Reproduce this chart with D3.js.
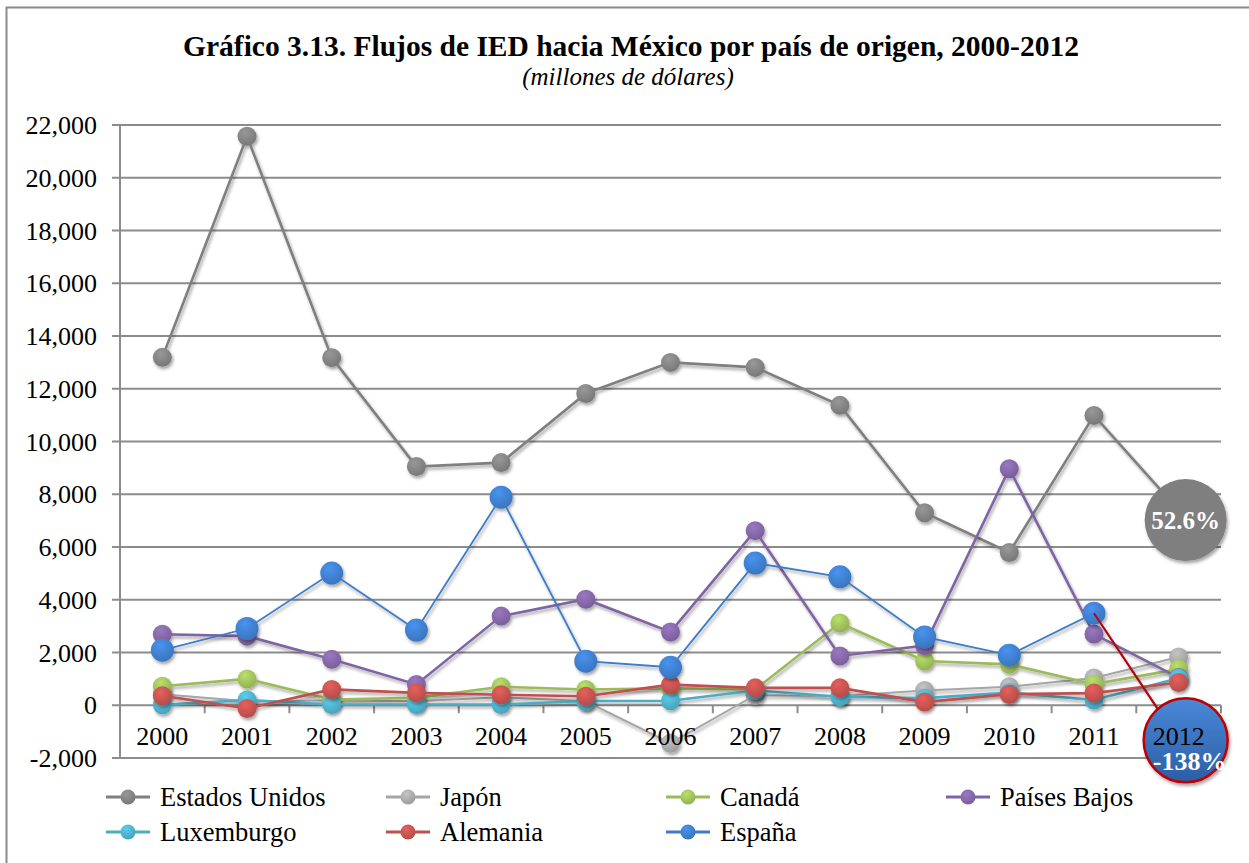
<!DOCTYPE html>
<html>
<head>
<meta charset="utf-8">
<script src="https://cdn.jsdelivr.net/npm/d3@7"></script>
<style>
  body { margin: 0; background: #fff; }
  text { font-family: "Liberation Serif", "Times New Roman", serif; }
</style>
</head>
<body>
<div id="chart"></div>
<script>
// Flujos de IED hacia México por país de origen (millones de dólares)

const years = ['2000','2001','2002','2003','2004','2005','2006','2007','2008','2009','2010','2011','2012'];

const estadosUnidos = [13190, 21570, 13180, 9050, 9200, 11820, 13000, 12810, 11370, 7300, 5790, 10990, 7400];
const japon         = [420, 150, 180, 150, 300, 150, -1440, 380, 350, 560, 700, 1030, 1830];
const canada        = [720, 1000, 220, 280, 700, 600, 640, 600, 3120, 1680, 1550, 800, 1370];
const paisesBajos   = [2690, 2620, 1740, 790, 3380, 4020, 2780, 6620, 1870, 2260, 8970, 2700, 1050];
const luxemburgo    = [20, 200, 30, 30, 30, 160, 170, 560, 320, 270, 480, 200, 1020];
const alemania      = [360, -120, 600, 470, 400, 340, 780, 660, 660, 120, 420, 460, 860];
const espana        = [2090, 2910, 5010, 2850, 7890, 1670, 1440, 5390, 4870, 2590, 1900, 3490, -1330];

const seriesNames  = ['Estados Unidos', 'Japón', 'Canadá', 'Países Bajos', 'Luxemburgo', 'Alemania', 'España'];
const seriesValues = [estadosUnidos, japon, canada, paisesBajos, luxemburgo, alemania, espana];
const seriesColors = ['#7f7f7f', '#a5a5a5', '#9bbb59', '#8064a2', '#4bacc6', '#c0504d', '#3d7bc8'];

const calloutUS = '52.6%';
const calloutES = '-138%';

const W = 1249, H = 863;
const plot = { left: 120, right: 1221, top: 125, bottom: 758 };

const svg = d3.select('#chart').append('svg')
  .attr('width', W).attr('height', H);

const defs = svg.append('defs');

// soft shadow like the spreadsheet markers
const shadow = defs.append('filter').attr('id', 'shadow')
  .attr('x', '-50%').attr('y', '-50%').attr('width', '200%').attr('height', '200%');
shadow.append('feDropShadow')
  .attr('dx', 1.5).attr('dy', 2.5).attr('stdDeviation', 1.8)
  .attr('flood-color', '#000').attr('flood-opacity', 0.35);

seriesColors.forEach((c, i) => {
  const g = defs.append('radialGradient').attr('id', 'mk' + i)
    .attr('cx', '40%').attr('cy', '30%').attr('r', '70%');
  g.append('stop').attr('offset', '0%').attr('stop-color', d3.color(c).brighter(0.5));
  g.append('stop').attr('offset', '100%').attr('stop-color', d3.color(c).darker(0.15));
});

const blueGrad = defs.append('linearGradient').attr('id', 'blueGrad')
  .attr('x1', 0).attr('y1', 0).attr('x2', 0).attr('y2', 1);
blueGrad.append('stop').attr('offset', '0%').attr('stop-color', '#4a88d8');
blueGrad.append('stop').attr('offset', '100%').attr('stop-color', '#2b5ea6');

// frame
svg.append('rect')
  .attr('x', 6.5).attr('y', 7.5).attr('width', W - 5).attr('height', H + 10)
  .attr('fill', 'none').attr('stroke', '#8a8a8a').attr('stroke-width', 2);

// title
svg.append('text')
  .attr('x', 631).attr('y', 56)
  .attr('text-anchor', 'middle')
  .attr('font-size', 29.5).attr('font-weight', 'bold')
  .text('Gráfico 3.13. Flujos de IED hacia México por país de origen, 2000-2012');

svg.append('text')
  .attr('x', 628).attr('y', 85)
  .attr('text-anchor', 'middle')
  .attr('font-size', 25).attr('font-style', 'italic')
  .text('(millones de dólares)');

// scales
const x = d3.scaleBand().domain(years).range([plot.left, plot.right]);
const y = d3.scaleLinear().domain([-2000, 22000]).range([plot.bottom, plot.top]);

const fmt = d3.formatLocale({ decimal: '.', thousands: ',', grouping: [3], currency: ['$', ''], minus: '-' }).format(',');

// gridlines
const yTicks = y.ticks(12);
svg.append('g').selectAll('line')
  .data(yTicks).enter().append('line')
  .attr('x1', plot.left - 8).attr('x2', plot.right)
  .attr('y1', d => y(d)).attr('y2', d => y(d))
  .attr('stroke', '#8c8c8c').attr('stroke-width', 2);

svg.append('line')
  .attr('x1', plot.left).attr('x2', plot.left)
  .attr('y1', plot.top).attr('y2', plot.bottom)
  .attr('stroke', '#8c8c8c').attr('stroke-width', 2);

svg.append('g').selectAll('text')
  .data(yTicks).enter().append('text')
  .attr('x', 97).attr('y', d => y(d))
  .attr('dy', '0.35em')
  .attr('text-anchor', 'end')
  .attr('font-size', 26)
  .text(d => fmt(d));

// x axis ticks on the zero line
const edges = years.map(d => x(d)).concat([plot.right]);
svg.append('g').selectAll('line')
  .data(edges).enter().append('line')
  .attr('x1', d => d).attr('x2', d => d)
  .attr('y1', y(0)).attr('y2', y(0) + 8)
  .attr('stroke', '#8c8c8c').attr('stroke-width', 2);

// series
const line = d3.line()
  .x((d, i) => x(years[i]) + x.bandwidth() / 2)
  .y(d => y(d));

const seriesG = svg.append('g');
seriesValues.forEach((vals, i) => {
  const g = seriesG.append('g').attr('filter', 'url(#shadow)');
  g.append('path')
    .datum(vals)
    .attr('d', line)
    .attr('fill', 'none')
    .attr('stroke', seriesColors[i])
    .attr('stroke-width', i === 6 ? 1.8 : (i === 1 ? 2 : 2.6));
  g.selectAll('circle')
    .data(vals).enter().append('circle')
    .attr('cx', (d, j) => x(years[j]) + x.bandwidth() / 2)
    .attr('cy', d => y(d))
    .attr('r', i === 6 ? 11.5 : 9.5)
    .attr('fill', 'url(#mk' + i + ')');
});

// callout line España 2011 -> 2012
const cx11 = x('2011') + x.bandwidth() / 2;
const cx12 = x('2012') + x.bandwidth() / 2;
svg.append('line')
  .attr('x1', cx11).attr('y1', y(espana[11]))
  .attr('x2', cx12).attr('y2', y(espana[12]))
  .attr('stroke', '#c00000').attr('stroke-width', 2);

// callout bubbles
const usBubble = svg.append('g').attr('filter', 'url(#shadow)');
usBubble.append('circle')
  .attr('cx', cx12 + 7).attr('cy', y(estadosUnidos[12]) + 10)
  .attr('r', 41).attr('fill', '#7f7f7f');
svg.append('text')
  .attr('x', cx12 + 7).attr('y', y(estadosUnidos[12]) + 10)
  .attr('dy', '0.35em').attr('text-anchor', 'middle')
  .attr('font-size', 25).attr('font-weight', 'bold').attr('fill', '#fff')
  .text(calloutUS);

const esBubble = svg.append('g').attr('filter', 'url(#shadow)');
esBubble.append('circle')
  .attr('cx', cx12 + 7).attr('cy', y(espana[12]))
  .attr('r', 42).attr('fill', 'url(#blueGrad)')
  .attr('stroke', '#c00000').attr('stroke-width', 2.5);

// x labels (drawn above the bubble, like the original)
svg.append('g').selectAll('text')
  .data(years).enter().append('text')
  .attr('x', d => x(d) + x.bandwidth() / 2)
  .attr('y', 745)
  .attr('text-anchor', 'middle')
  .attr('font-size', 26)
  .text(d => d);

svg.append('text')
  .attr('x', cx12 + 11).attr('y', y(espana[12]) + 30)
  .attr('text-anchor', 'middle')
  .attr('font-size', 26).attr('font-weight', 'bold').attr('fill', '#fff')
  .text(calloutES);

// legend
const legend = svg.append('g');
const legX = [106, 386, 666, 946];
const legY = [797, 832];
seriesNames.forEach((name, i) => {
  const lx = legX[i % 4], ly = legY[Math.floor(i / 4)];
  const g = legend.append('g').attr('transform', `translate(${lx},${ly})`);
  g.append('line')
    .attr('x1', 0).attr('x2', 44).attr('y1', 0).attr('y2', 0)
    .attr('stroke', seriesColors[i]).attr('stroke-width', 3);
  g.append('circle')
    .attr('cx', 22).attr('cy', 0).attr('r', 7.5)
    .attr('fill', 'url(#mk' + i + ')');
  g.append('text')
    .attr('x', 54).attr('y', 0).attr('dy', '0.35em')
    .attr('font-size', 26.5)
    .text(name);
});
</script>
</body>
</html>
